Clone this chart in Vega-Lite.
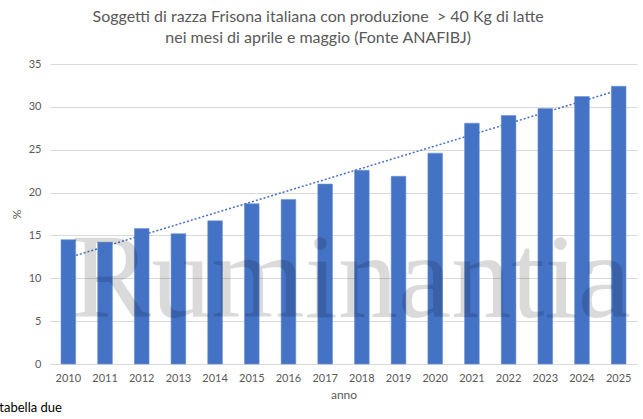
{
  "$schema": "https://vega.github.io/schema/vega-lite/v6.json",
  "width": 587,
  "height": 300,
  "autosize": {"type": "none"},
  "padding": {"left": 50, "top": 64, "right": 6, "bottom": 55},
  "background": "white",
  "config": {
    "view": {"stroke": null},
    "font": "Lato"
  },
  "title": {
    "text": ["Soggetti di razza Frisona italiana con produzione \u00a0> 40 Kg di latte", "nei mesi di aprile e maggio (Fonte ANAFIBJ)"],
    "font": "Lato",
    "fontSize": 16,
    "fontWeight": "normal",
    "color": "#595959",
    "anchor": "middle",
    "frame": "bounds",
    "lineHeight": 21,
    "offset": 12
  },
  "datasets": {
    "main": [
      {"anno": 2010, "pct": 14.5},
      {"anno": 2011, "pct": 14.2},
      {"anno": 2012, "pct": 15.8},
      {"anno": 2013, "pct": 15.2},
      {"anno": 2014, "pct": 16.7},
      {"anno": 2015, "pct": 18.7},
      {"anno": 2016, "pct": 19.2},
      {"anno": 2017, "pct": 21.0},
      {"anno": 2018, "pct": 22.6},
      {"anno": 2019, "pct": 21.9},
      {"anno": 2020, "pct": 24.6},
      {"anno": 2021, "pct": 28.1},
      {"anno": 2022, "pct": 29.0},
      {"anno": 2023, "pct": 29.8},
      {"anno": 2024, "pct": 31.2},
      {"anno": 2025, "pct": 32.4}
    ],
    "notes": [
      {"label": "Ruminantia", "anno": 2017, "pct": 5.48, "kind": "watermark"},
      {"label": "tabella due", "anno": 2010, "pct": -5.13, "kind": "note"}
    ]
  },
  "layer": [
    {
      "data": {"name": "main"},
      "mark": {"type": "bar", "color": "#4472C4", "stroke": "#6f93d3", "strokeWidth": 0.6},
      "encoding": {
        "x": {
          "field": "anno",
          "type": "ordinal",
          "title": "anno",
          "scale": {"paddingInner": 0.6, "paddingOuter": 0.3},
          "axis": {
            "labelAngle": 0,
            "labelFontSize": 11,
            "labelColor": "#595959",
            "labelPadding": 8,
            "ticks": false,
            "domainColor": "#d9d9d9",
            "titleFontSize": 12,
            "titleFontWeight": "normal",
            "titleColor": "#595959",
            "titlePadding": 6
          }
        },
        "y": {
          "field": "pct",
          "type": "quantitative",
          "title": "%",
          "scale": {"domain": [0, 35]},
          "axis": {
            "values": [0, 5, 10, 15, 20, 25, 30, 35],
            "domain": false,
            "ticks": false,
            "gridColor": "#d9d9d9",
            "labelFontSize": 11,
            "labelColor": "#595959",
            "labelPadding": 9,
            "titleFontSize": 12,
            "titleFontWeight": "normal",
            "titleColor": "#595959",
            "titlePadding": 5
          }
        }
      }
    },
    {
      "data": {"name": "main"},
      "transform": [{"regression": "pct", "on": "anno"}],
      "mark": {"type": "line", "color": "#4472C4", "strokeWidth": 1.5, "strokeDash": [2, 2]},
      "encoding": {
        "x": {"field": "anno", "type": "ordinal"},
        "y": {"field": "pct", "type": "quantitative"}
      }
    },
    {
      "data": {"name": "notes"},
      "transform": [{"filter": "datum.kind === 'watermark'"}],
      "mark": {
        "type": "text",
        "font": "Liberation Serif",
        "fontSize": 120,
        "color": "#000000",
        "opacity": 0.14,
        "baseline": "alphabetic",
        "align": "center",
        "dx": 26
      },
      "encoding": {
        "x": {"field": "anno", "type": "ordinal"},
        "y": {"field": "pct", "type": "quantitative"},
        "text": {"field": "label"}
      }
    },
    {
      "data": {"name": "notes"},
      "transform": [{"filter": "datum.kind === 'note'"}],
      "mark": {
        "type": "text",
        "fontSize": 13,
        "color": "#000000",
        "align": "left",
        "baseline": "middle",
        "dx": -69
      },
      "encoding": {
        "x": {"field": "anno", "type": "ordinal"},
        "y": {"field": "pct", "type": "quantitative"},
        "text": {"field": "label"}
      }
    }
  ]
}
